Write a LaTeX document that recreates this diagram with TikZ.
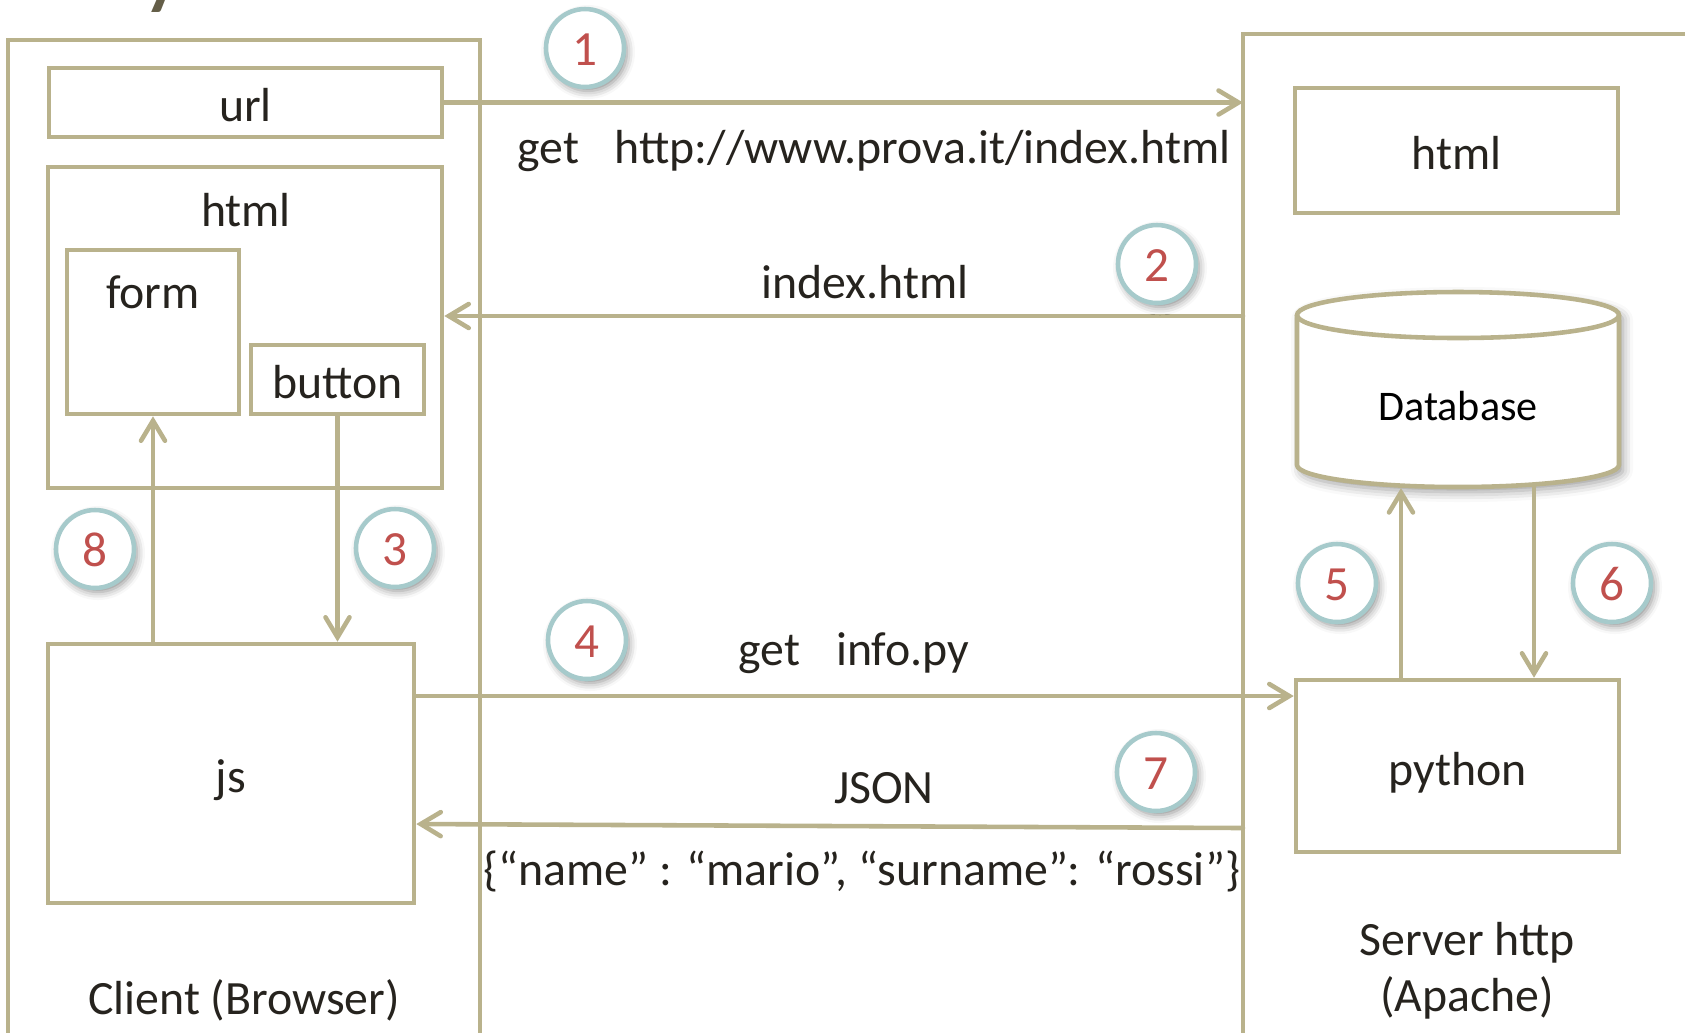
\documentclass[tikz,border=0pt]{standalone}
\usepackage{fontspec}
\setmainfont{Carlito}
\usetikzlibrary{arrows.meta,shadows.blur}

\definecolor{rimcol}{RGB}{185,178,140}
\definecolor{inkcol}{RGB}{38,35,30}
\definecolor{ringcol}{RGB}{166,202,203}
\definecolor{numcol}{RGB}{192,80,77}
\definecolor{titlecol}{RGB}{100,94,72}

\tikzset{
  rim/.style={draw=rimcol, line width=1.3pt},
  box/.style={rim, rectangle, inner sep=0pt, text height=1.3em, text depth=.2em},
  flow/.style={draw=rimcol, line width=1.3pt, line cap=round,
      -{Straight Barb[length=2mm,width=2.4mm,line cap=round]}},
  num/.style={circle, draw=ringcol, line width=1.3pt, fill=white, minimum size=7.8mm,
      inner sep=0pt, text=numcol, font=\fontsize{14}{16}\selectfont,
      text height=1.2em, text depth=.2em,
      blur shadow={shadow xshift=.3mm, shadow yshift=-.4mm, shadow blur radius=.8mm, shadow opacity=45}},
}

\begin{document}
\begin{tikzpicture}[font=\fontsize{13.6}{16}\selectfont, text=inkcol]
  \useasboundingbox (0,0) rectangle (16.85,-10.32);
  \clip (0,0) rectangle (16.85,-10.32);

  % left over from the slide title
  \node[anchor=base west, inner sep=0pt, text=titlecol, font=\fontsize{30}{30}\selectfont] (ttl) at (1.40,.05) {y};

  % client and server frames
  \draw[rim] (.08,-10.6) -- (.08,-.40) -- (4.80,-.40) -- (4.80,-10.6);
  \draw[rim] (17,-.34) -- (12.43,-.34) -- (12.43,-10.6);
  \coordinate (srv) at (12.43,0);

  % browser
  \node[box, minimum width=3.93cm, minimum height=.69cm] (url) at (2.455,-1.025) {url};
  \node[box, minimum width=3.94cm, minimum height=3.21cm] (page) at (2.45,-3.275) {};
  \node (pagetxt) at (2.46,-2.10) {html};
  \node[box, minimum width=1.72cm, minimum height=1.64cm] (form) at (1.53,-3.32) {};
  \node (formtxt) at (1.53,-2.92) {form};
  \node[box, minimum width=1.73cm, minimum height=.69cm] (button) at (3.375,-3.795) {button};
  \node[box, minimum width=3.66cm, minimum height=2.59cm] (js) at (2.31,-7.735) {js};
  \node (client) at (2.44,-10.0) {Client (Browser)};

  % server
  \node[box, minimum width=3.23cm, minimum height=1.25cm] (html) at (14.565,-1.505) {html};
  \node[box, minimum width=3.23cm, minimum height=1.72cm] (python) at (14.575,-7.66) {python};
  \node[align=center] (server) at (14.67,-9.71) {Server http\\(Apache)};

  % database
  \path[fill=white, blur shadow={shadow xshift=.4mm, shadow yshift=-.5mm, shadow blur radius=1mm, shadow opacity=40}]
    (12.97,-3.15) -- (12.97,-4.65) arc[start angle=180, end angle=360, x radius=1.61cm, y radius=.22cm]
    -- (16.19,-3.15) arc[start angle=0, end angle=180, x radius=1.61cm, y radius=.23cm] -- cycle;
  \draw[rim] (12.97,-3.15) -- (12.97,-4.65) arc[start angle=180, end angle=360, x radius=1.61cm, y radius=.22cm] -- (16.19,-3.15);
  \draw[rim] (14.58,-3.15) ellipse [x radius=1.61cm, y radius=.23cm];
  \node[text=black, font=\fontsize{12}{14}\selectfont] (db) at (14.58,-4.06) {Database};
  \coordinate (d5) at (14.01,-4.88);
  \coordinate (d6) at (15.34,-4.85);

  % requests and answers
  \draw[flow] (url.east) -- (url.east -| srv);
  \draw[flow] (srv |- 0,-3.16) -- (page.east |- 0,-3.16);
  \draw[flow] (button.south) -- (button.south |- js.north);
  \draw[flow] (js.north -| form.south) -- (form.south);
  \draw[flow] (js.east |- 0,-6.96) -- (python.west |- 0,-6.96);
  \draw[flow] (srv |- 0,-8.28) -- (js.east |- 0,-8.24);
  \draw[flow] (python.north -| d5) -- (d5);
  \draw[flow] (d6) -- (d6 |- python.north);

  \node (get1) at (8.74,-1.51) {get\hspace{.75em}http://www.prova.it/index.html};
  \node (idx) at (8.65,-2.82) {index.html};
  \node (get4) at (8.54,-6.53) {get\hspace{.75em}info.py};
  \node (json) at (8.84,-7.88) {JSON};
  \node (data) at (8.62,-8.71) {\{“name” : “mario”, “surname”: “rossi”\}};

  % step numbers
  \foreach \k/\xy in {1/{5.85,-.48},2/{11.57,-2.64},3/{3.95,-5.48},4/{5.87,-6.40},
                      5/{13.37,-5.83},6/{16.12,-5.83},7/{11.56,-7.72},8/{.95,-5.49}}
    \node[num] (step\k) at (\xy) {\k};
\end{tikzpicture}
\end{document}
